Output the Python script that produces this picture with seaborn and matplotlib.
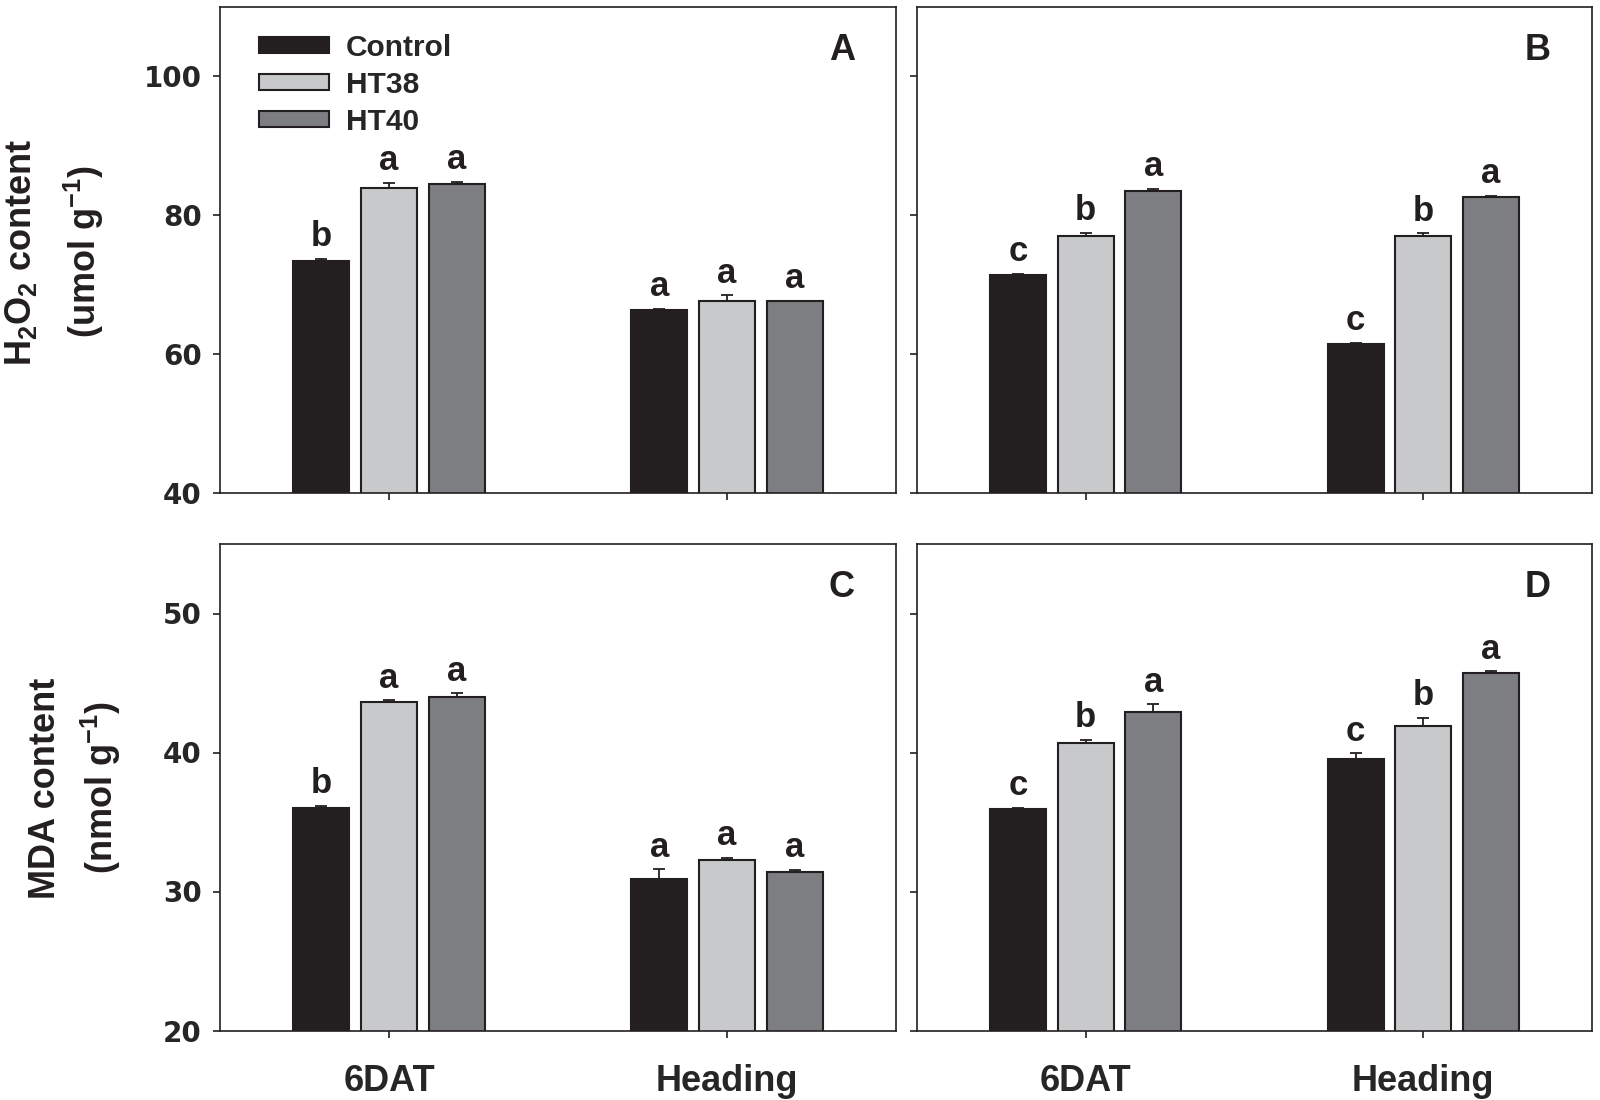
import numpy as np
import pandas as pd
import matplotlib.pyplot as plt
import matplotlib.patches as mpatches
import seaborn as sns

# ── Data (order: 6DAT Control/HT38/HT40, Heading Control/HT38/HT40) ──────────
stages = ["6DAT", "Heading"]
treatments = ["Control", "HT38", "HT40"]

a_vals = [73.4, 83.9, 84.5, 66.3, 67.7, 67.6]
a_errs = [0.35, 0.77, 0.30, 0.25, 0.80, 0.10]
a_sig = ["b", "a", "a", "a", "a", "a"]

b_vals = [71.4, 77.0, 83.5, 61.5, 77.0, 82.6]
b_errs = [0.15, 0.50, 0.33, 0.15, 0.43, 0.24]
b_sig = ["c", "b", "a", "c", "b", "a"]

c_vals = [36.0, 43.6, 44.0, 30.9, 32.3, 31.4]
c_errs = [0.16, 0.16, 0.26, 0.70, 0.13, 0.15]
c_sig = ["b", "a", "a", "a", "a", "a"]

d_vals = [35.9, 40.7, 42.9, 39.5, 41.9, 45.7]
d_errs = [0.13, 0.20, 0.58, 0.45, 0.60, 0.16]
d_sig = ["c", "b", "a", "c", "b", "a"]

h2o2_ticks = [40, 60, 80, 100]
mda_ticks = [20, 30, 40, 50]

# ── Style ────────────────────────────────────────────────────────────────────
sns.set_style("ticks")
plt.rcParams["font.family"] = ["Liberation Sans", "DejaVu Sans"]
plt.rcParams.update({
    "font.weight": "bold",
    "mathtext.fontset": "custom",
    "mathtext.rm": "Liberation Sans:bold",
    "mathtext.bf": "Liberation Sans:bold",
    "mathtext.default": "bf",
    "axes.linewidth": 1.2,
    "axes.edgecolor": "#231f20",
})
EDGE = "#231f20"
PALETTE = {"Control": "#231f20", "HT38": "#c8c9cb", "HT40": "#7d7e82"}

fig = plt.figure(figsize=(16, 11), dpi=100)

W, H = 1600, 1100
def axes_at(left, top, right, bottom):
    return fig.add_axes([left / W, 1 - bottom / H, (right - left) / W, (bottom - top) / H])

panels = [
    ("A", a_vals, a_errs, a_sig, axes_at(220, 7, 896, 493), (40, 110), h2o2_ticks, True, False),
    ("B", b_vals, b_errs, b_sig, axes_at(917, 7, 1592, 493), (40, 110), h2o2_ticks, False, False),
    ("C", c_vals, c_errs, c_sig, axes_at(220, 544, 896, 1030.5), (20, 55), mda_ticks, True, True),
    ("D", d_vals, d_errs, d_sig, axes_at(917, 544, 1592, 1030.5), (20, 55), mda_ticks, False, True),
]

for letter, vals, errs, sig, ax, ylim, yticks, show_y, show_x in panels:
    df = pd.DataFrame({
        "stage": np.repeat(stages, len(treatments)),
        "treatment": np.tile(treatments, len(stages)),
        "value": vals,
        "err": errs,
        "sig": sig,
    })
    sns.barplot(data=df, x="stage", y="value", hue="treatment",
                order=stages, hue_order=treatments, palette=PALETTE,
                saturation=1, width=0.6, gap=0.17, edgecolor=EDGE,
                linewidth=1.5, errorbar=None, legend=False, ax=ax)

    # one-sided error bars + significance letters
    for cont, trt in zip(ax.containers, treatments):
        sub = df[df["treatment"] == trt].set_index("stage").loc[stages]
        xs = [b.get_x() + b.get_width() / 2 for b in cont]
        hs = [b.get_height() for b in cont]
        ax.errorbar(xs, hs, yerr=[np.zeros(len(xs)), sub["err"].values],
                    fmt="none", ecolor=EDGE, elinewidth=1.3, capsize=4.5,
                    capthick=1.3, zorder=3)
        for x, h, e, s in zip(xs, hs, sub["err"].values, sub["sig"].values):
            ax.annotate(s, xy=(x, h + e), xytext=(0, 9), textcoords="offset points",
                        ha="center", va="baseline", fontsize=25, fontweight="bold",
                        color=EDGE)

    ax.set_xlim(-0.5, 1.5)
    ax.set_ylim(*ylim)
    ax.set_yticks(yticks, labels=[str(t) for t in yticks], fontfamily="DejaVu Sans",
                  fontweight="bold", fontsize=20)
    ax.set_xticks([0, 1], labels=stages, fontsize=26, fontweight="bold")
    ax.tick_params(axis="both", direction="out", length=5, width=1.2, color=EDGE)
    ax.tick_params(axis="x", pad=19)
    ax.tick_params(axis="y", pad=8)
    ax.tick_params(labelleft=show_y, labelbottom=show_x)
    ax.set_xlabel("")
    ax.set_ylabel("")
    for sp in ax.spines.values():
        sp.set_visible(True)
        sp.set_color(EDGE)
        sp.set_linewidth(1.2)

    ax.text(0.92, 0.91, letter, transform=ax.transAxes, ha="center", va="center",
            fontsize=26, fontweight="bold", color=EDGE)

    if letter == "A":
        handles = [mpatches.Patch(facecolor=PALETTE[t], edgecolor=EDGE, linewidth=1.5)
                   for t in treatments]
        ax.legend(handles, treatments, loc="upper left", bbox_to_anchor=(0.058, 0.945),
                  frameon=False, prop={"weight": "bold", "size": 21.5},
                  handlelength=2.33, handleheight=0.45, handletextpad=0.57,
                  labelspacing=0.3, borderpad=0, borderaxespad=0)

# ── Y axis titles ────────────────────────────────────────────────────────────
fig.text(21 / W, 1 - 252 / H, "H$_2$O$_2$ content", rotation=90, ha="center",
         va="center", fontsize=26, fontweight="bold", color=EDGE)
fig.text(84 / W, 1 - 252 / H, "(umol g$^{-1}$)", rotation=90, ha="center",
         va="center", fontsize=26, fontweight="bold", color=EDGE)
fig.text(46 / W, 1 - 788 / H, "MDA content", rotation=90, ha="center",
         va="center", fontsize=26, fontweight="bold", color=EDGE)
fig.text(101 / W, 1 - 788 / H, "(nmol g$^{-1}$)", rotation=90, ha="center",
         va="center", fontsize=26, fontweight="bold", color=EDGE)

fig.savefig("out.png", dpi=100, facecolor="white")
